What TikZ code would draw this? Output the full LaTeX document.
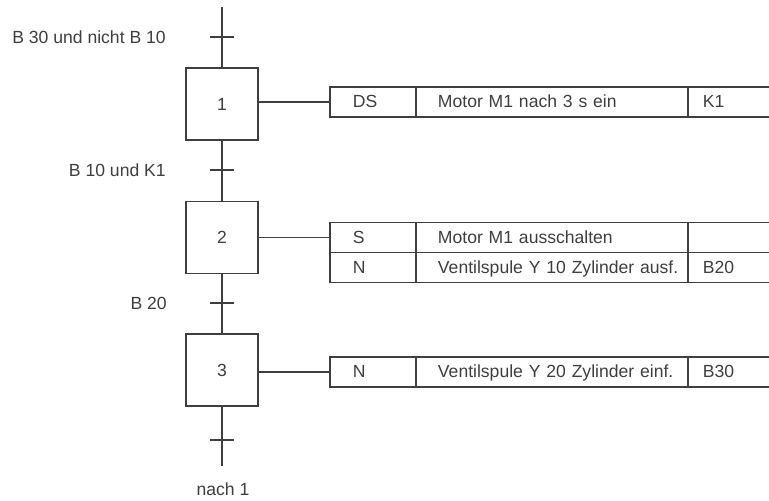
\documentclass[tikz,border=0pt]{standalone}
\usepackage{fontspec}
\setmainfont{Liberation Sans}
\usetikzlibrary{positioning}
\definecolor{ink}{HTML}{3E3E3E}

\begin{document}
\begin{tikzpicture}[
 x=0.02cm,y=-0.02cm,
 node distance=0pt,
 every node/.style={font=\fontsize{10}{12}\selectfont,text=ink},
 stepbox/.style={draw=ink,line width=1.1pt,minimum size=1.44cm,inner sep=0pt},
 trans/.style={draw=ink,line width=1.1pt,minimum width=0.48cm,minimum height=0pt,inner sep=0pt},
 cond/.style={inner sep=0pt},
 cell/.style={draw=ink,line width=0.8pt,outer sep=0pt,minimum height=0.6cm,align=left,inner ysep=0pt,text height=1.6ex,text depth=.4ex},
 qual/.style={cell,text width=0.8cm,inner xsep=0.46cm},
 act/.style={cell,text width=4.56cm,inner xsep=0.44cm},
 fb/.style={cell,text width=1.6cm,inner xsep=0.3cm},
 flow/.style={draw=ink,line width=1.1pt},
 link/.style={draw=ink,line width=0.9pt}
]
\useasboundingbox (0,0) rectangle (769,501);
\clip (0,0) rectangle (769,501);
\coordinate (top) at (222,7);
\coordinate (bot) at (222,466);
\node[stepbox] (s1) at (222,104) {1};
\node[stepbox] (s2) at (222,237.5) {2};
\node[stepbox] (s3) at (222,370) {3};
\node[trans] (t1) at (222,37) {};
\node[trans] (t2) at (222,170) {};
\node[trans] (t3) at (222,303) {};
\node[trans] (t4) at (222,440) {};
\node[cond,left=0.86cm of t1] (c1) {B 30 und nicht B 10};
\node[cond,left=0.86cm of t2] (c2) {B 10 und K1};
\node[cond,left=0.84cm of t3] (c3) {B 20};
\node (n1) at (223,489) {nach 1};
\draw[flow] (top)--(s1);
\draw[flow] (s1)--(s2);
\draw[flow] (s2)--(s3);
\draw[flow] (s3)--(bot);
\node[qual,anchor=west] (a1q) at (330,102) {DS};
\node[act,right=of a1q] (a1a) {Motor M1 nach 3 s ein};
\node[fb,right=of a1a] (a1f) {K1};
\node[qual,anchor=west] (a2q) at (330,237.5) {S};
\node[act,right=of a2q] (a2a) {Motor M1 ausschalten};
\node[fb,right=of a2a] (a2f) {};
\node[qual,below=of a2q] (b2q) {N};
\node[act,below=of a2a] (b2a) {\mbox{Ventilspule Y 10 Zylinder ausf.}};
\node[fb,below=of a2f] (b2f) {B20};
\node[qual,anchor=west] (a3q) at (330,372) {N};
\node[act,right=of a3q] (a3a) {\mbox{Ventilspule Y 20 Zylinder einf.}};
\node[fb,right=of a3a] (a3f) {B30};
\draw[link] (s1.east |- a1q.west)--(a1q.west);
\draw[link] (s2.east |- a2q.west)--(a2q.west);
\draw[link] (s3.east |- a3q.west)--(a3q.west);
\end{tikzpicture}
\end{document}
